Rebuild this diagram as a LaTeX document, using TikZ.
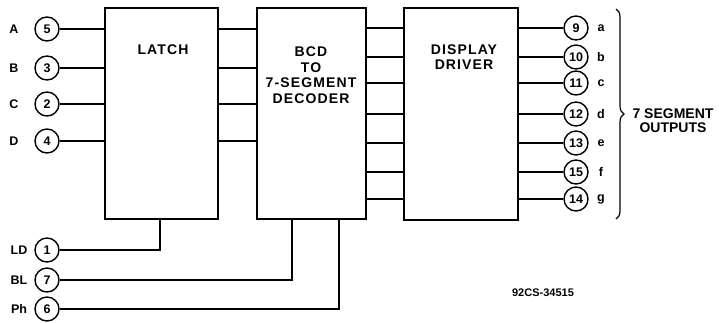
\documentclass[tikz,border=0pt]{standalone}
\usepackage{fontspec}
\setmainfont{Liberation Sans}
\usetikzlibrary{decorations.pathreplacing}
\begin{document}
\begin{tikzpicture}[x=1pt,y=-1pt,
  every path/.style={line width=1.5pt},
  box/.style={draw,line width=1.5pt,inner sep=0pt},
  pin/.style={draw,circle,line width=1.4pt,minimum size=24pt,inner sep=0pt,font=\bfseries\fontsize{12.5}{12}\selectfont},
  lab/.style={font=\bfseries\fontsize{12.5}{12}\selectfont,inner sep=0pt},
  title/.style={font=\bfseries\fontsize{14}{15.5}\selectfont\addfontfeatures{LetterSpace=8},align=center,inner sep=0pt}]
\useasboundingbox (0,0) rectangle (719,322);
% blocks
\node[box,minimum width=113pt,minimum height=211pt] (latch) at (161.5,113.5) {};
\node[box,minimum width=109pt,minimum height=211pt] (dec) at (311.5,113.5) {};
\node[box,minimum width=114pt,minimum height=212pt] (drv) at (461,114) {};
\node[title] (tl) at (163,50) {LATCH};
\node[title] (td) at (311,75) {BCD\\TO\\7-SEGMENT\\DECODER};
\node[title] (tv) at (464,57) {DISPLAY\\DRIVER};
% input pins
\node[pin] (p5) at (47,29) {5};
\node[pin] (p3) at (47,68) {3};
\node[pin] (p2) at (47,104) {2};
\node[pin] (p4) at (47,141) {4};
\node[lab] (lA) at (14,29) {A};
\node[lab] (lB) at (14,68) {B};
\node[lab] (lC) at (14,104) {C};
\node[lab] (lD) at (14,141) {D};
\foreach \p in {p5,p3,p2,p4}{
  \draw (\p) -- (\p -| latch.west);
  \draw (latch.east |- \p) -- (dec.west |- \p);
}
% output pins
\node[pin] (o9) at (576,28) {9};
\node[pin] (o10) at (576,57) {10};
\node[pin] (o11) at (576,83) {11};
\node[pin] (o12) at (576,114) {12};
\node[pin] (o13) at (576,143) {13};
\node[pin] (o15) at (576,172) {15};
\node[pin] (o14) at (576,199) {14};
\node[lab] (la) at (601,28) {a};
\node[lab] (lb) at (601,57) {b};
\node[lab] (lc) at (601,83) {c};
\node[lab] (ld) at (601,114) {d};
\node[lab] (le) at (601,143) {e};
\node[lab] (lf) at (601,172) {f};
\node[lab] (lg) at (601,199) {g};
\foreach \p in {o9,o10,o11,o12,o13,o15,o14}{
  \draw (dec.east |- \p) -- (drv.west |- \p);
  \draw (drv.east |- \p) -- (\p);
}
\coordinate (bt) at (616,9);
\coordinate (bb) at (616,219);
\draw[line width=1.2pt,decorate,decoration={brace,amplitude=8pt}] (bt) -- (bb);
\node[lab,align=center,font=\bfseries\fontsize{14}{14}\selectfont] (seg) at (673,121) {7 SEGMENT\\OUTPUTS};
% control pins
\node[pin] (p1) at (47,250) {1};
\node[pin] (p7) at (47,280) {7};
\node[pin] (p6) at (47,309) {6};
\node[lab] (lLD) at (19,250) {LD};
\node[lab] (lBL) at (19,280) {BL};
\node[lab] (lPh) at (19,309) {Ph};
\draw (p1) -| ([xshift=-1.5pt]latch.south);
\draw (p7) -| ([xshift=-19.5pt]dec.south);
\draw (p6) -| ([xshift=27.5pt]dec.south);
\node[lab,font=\bfseries\fontsize{11}{11}\selectfont] (code) at (543,293) {92CS-34515};
\end{tikzpicture}
\end{document}
